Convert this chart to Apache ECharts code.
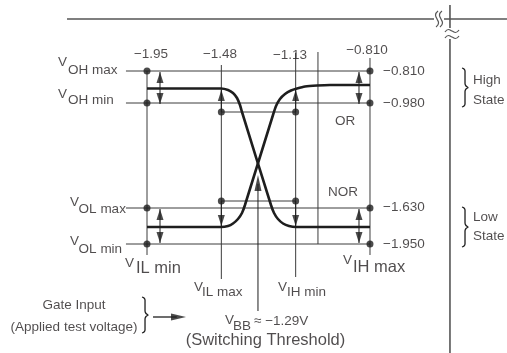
<!DOCTYPE html>
<html><head><meta charset="utf-8">
<script src="https://cdn.jsdelivr.net/npm/echarts@6/dist/echarts.min.js"></script>
<style>html,body{margin:0;padding:0;background:#fff}#c{width:507px;height:353px}</style>
</head><body><div id="c"></div>
<script>
// ===== DATA (schematic units: x = input-voltage tick index, y = output level position) =====
const inputTickLabels = ['−1.95', '−1.48', '−1.13', '−0.810'];
const inputTickPos = [0, 1, 2, 3];
const outputTickLabels = ['−0.810', '−0.980', '−1.630', '−1.950'];
const outputTickPos = [17.3, 14.1, 3.6, 0];          // VOHmax, VOHmin, VOLmax, VOLmin
const outputNames = ['OH max', 'OH min', 'OL max', 'OL min'];
const inputNames = ['IL min', 'IL max', 'IH min', 'IH max'];
const vbbPos = 1.493;                                 // VBB ≈ −1.29 V
const vbbLabel = '≈ −1.29V';
const orNorBoundary = 2.3;
const norCurveX = [0, 0.996, 1.090, 1.157, 1.211, 1.251, 1.278, 1.668, 1.709, 1.762, 1.830, 1.910, 2.005, 3];
const norCurveY = [15.55, 15.55, 15.4, 15.1, 14.6, 13.9, 13.2, 3.9, 3.1, 2.5, 2.05, 1.8, 1.7, 1.7];
const orCurveX = [0, 0.996, 1.090, 1.157, 1.224, 1.278, 1.318, 1.695, 1.736, 1.789, 1.857, 1.937, 2.018, 2.126, 2.287, 2.462, 3];
const orCurveY = [1.7, 1.7, 1.8, 2.05, 2.5, 3.1, 3.9, 12.9, 13.8, 14.5, 15.0, 15.35, 15.55, 15.75, 15.85, 15.9, 15.9];
const testLevelHigh = 13.2, testLevelLow = 4.3;

// ===== LAYOUT / STYLE =====
function fontAvailable(name){
  const c = document.createElement('canvas').getContext('2d');
  const s = '(Applied test voltage) 1.95';
  c.font = '20px monospace'; const a = c.measureText(s).width;
  c.font = '20px "' + name + '", monospace'; const b = c.measureText(s).width;
  return Math.abs(a - b) > 0.5;
}
const NARROW = fontAvailable('Liberation Sans Narrow');
const FONT = NARROW ? '"Liberation Sans Narrow", sans-serif' : '"Liberation Sans", Arial, sans-serif';
const FS = NARROW ? 16 : 13.5;
const FB = NARROW ? 19.5 : 16.5;
const TEXT = '#231f20', LINE = '#3c3c3c', DARK = '#1e1e1e';
const PX = 1 / 74.33, PY = 0.1;   // one screen pixel in schematic units

const series = [];
function seg(pts, o) {
  o = o || {};
  series.push({type: 'line', data: pts, showSymbol: false, symbol: 'none', silent: true, animation: false,
    clip: false, smooth: o.smooth || false, z: o.z || 2,
    lineStyle: {color: o.color || LINE, width: o.width || 1}});
}
const texts = [];
function txt(x, y, s, size, align) {
  texts.push({value: [x, y], label: {formatter: s, fontSize: size, align: align || 'left'}});
}
const heads = [];
function head(x, y, dir, w, l) {
  const rot = {up: 0, down: 180, right: -90}[dir];
  const off = {up: [0, l / 2], down: [0, -l / 2], right: [-l / 2, 0]}[dir];
  heads.push({value: [x, y], symbolRotate: rot, symbolOffset: off, symbolSize: [w, l]});
}
const dots = [];

// horizontal level lines
const levelLeft = -0.283;
outputTickPos.forEach(y => seg([[levelLeft, y], [inputTickPos[3], y]]));
// test level lines between VIL max and VIH min
seg([[inputTickPos[1], testLevelHigh], [inputTickPos[2], testLevelHigh]]);
seg([[inputTickPos[1], testLevelLow], [inputTickPos[2], testLevelLow]]);
// vertical input lines
const vTop = [17.3, 17.9, 19.1, 18.6];
const vBot = [-1.1, -3.5, -3.3, -1.1];
inputTickPos.forEach((x, i) => seg([[x, vTop[i]], [x, vBot[i]]]));
seg([[orNorBoundary, 19.2], [orNorBoundary, 0]]);
// dots
outputTickPos.forEach(y => { dots.push([inputTickPos[0], y]); dots.push([inputTickPos[3], y]); });
[inputTickPos[1], inputTickPos[2]].forEach(x => { dots.push([x, testLevelHigh]); dots.push([x, testLevelLow]); });

// double arrows
[0.175, 2.852].forEach(x => {
  seg([[x, 17.2], [x, 14.0]], {color: DARK});
  head(x, 17.2, 'up', 7, 11); head(x, 14.0, 'down', 7, 11);
  seg([[x, 3.5], [x, 0.1]], {color: DARK});
  head(x, 3.5, 'up', 7, 11); head(x, 0.1, 'down', 7, 11);
});
// single arrows from test dots to curves
[inputTickPos[1], inputTickPos[2]].forEach(x => {
  seg([[x, testLevelHigh], [x, 15.4]], {color: DARK}); head(x, 15.4, 'up', 7, 11);
  seg([[x, testLevelLow], [x, 1.8]], {color: DARK}); head(x, 1.8, 'down', 7, 11);
});
// VBB arrow
seg([[vbbPos, -6.7], [vbbPos, 6.0]], {color: DARK});
head(vbbPos, 6.9, 'up', 7, 16);
// gate input arrow
seg([[0.081, -7.3], [0.4, -7.3]], {color: DARK, width: 1.3});
head(0.525, -7.3, 'right', 7, 15);

// transfer curves
seg(norCurveX.map((x, i) => [x, norCurveY[i]]), {color: DARK, width: 2.6, smooth: 0.2, z: 3});
seg(orCurveX.map((x, i) => [x, orCurveY[i]]), {color: DARK, width: 2.6, smooth: 0.2, z: 3});

// frame lines with break marks
seg([[-1.076, 22.5], [3.861, 22.5]], {color: '#555', width: 1.6});
seg([[3.996, 22.5], [4.843, 22.5]], {color: '#555', width: 1.6});
seg([[4.076, 23.9], [4.076, 21.6]], {color: '#555', width: 1.6});
seg([[4.076, 20.5], [4.076, -10.9]], {color: '#555', width: 1.6});
function wiggleV(x, yTop) {
  const rel = [[1, 0], [-1.5, 4], [0, 8], [1.5, 12], [-1, 16]];
  seg(rel.map(p => [x + p[0] * PX, yTop - p[1] * PY]), {color: '#555', width: 1.2, smooth: 0.5});
}
function wiggleH(x, y) {
  const rel = [[0, 1], [3.5, -1.5], [7, 0], [10.5, 1.5], [14, -1]];
  seg(rel.map(p => [x + p[0] * PX, y - p[1] * PY]), {color: '#555', width: 1.2, smooth: 0.5});
}
wiggleV(3.902, 23.3); wiggleV(3.955, 23.3);
wiggleH(4.009, 21.3); wiggleH(4.009, 20.7);

// braces
function brace(x, yTop, yBot) {
  const h = (yTop - yBot) / PY, m = h / 2;
  const rel = [[0, 0], [2, 1], [3, 3], [3, m - 4], [4, m - 1.5], [6, m], [4, m + 1.5], [3, m + 4], [3, h - 3], [2, h - 1], [0, h]];
  seg(rel.map(p => [x + p[0] * PX, yTop - p[1] * PY]), {color: DARK, width: 1.3, smooth: 0.3});
}
brace(4.238, 17.6, 13.7);
brace(4.238, 3.7, -0.3);
brace(-0.067, -5.3, -8.9);

// ===== TEXT =====
const topLabelX = [0.054, 0.982, 1.924, 2.96];
const topLabelY = [18.95, 18.95, 18.9, 19.4];
inputTickLabels.forEach((s, i) => txt(topLabelX[i], topLabelY[i], s, FS, 'center'));
const rightLabelY = [17.3, 14.1, 3.7, 0];
outputTickLabels.forEach((s, i) => txt(3.175, rightLabelY[i], s, FS));
txt(2.664, 12.3, 'OR', FS, 'center');
txt(2.637, 5.2, 'NOR', FS, 'center');
txt(4.386, 16.4, 'High', FS); txt(4.386, 14.4, 'State', FS);
txt(4.386, 2.7, 'Low', FS); txt(4.386, 0.8, 'State', FS);
// output level names
const outVX = [-1.197, -1.197, -1.036, -1.036], outVY = [18.15, 15.0, 4.2, 0.25];
const outSX = [-1.063, -1.063, -0.92, -0.92], outSY = [17.4, 14.35, 3.5, -0.5];
outputNames.forEach((s, i) => { txt(outVX[i], outVY[i], 'V', FS); txt(outSX[i], outSY[i], s, FS); });
// input level names
const inVX = [-0.296, 0.632, 1.762, 2.637], inVY = [-1.9, -4.3, -4.3, -1.6];
const inSX = [-0.148, 0.740, 1.884, 2.771], inSY = [-2.45, -4.85, -4.85, -2.3];
const inSize = [FB, FS, FS, FB];
inputNames.forEach((s, i) => { txt(inVX[i], inVY[i], 'V', FS); txt(inSX[i], inSY[i], s, inSize[i]); });
// VBB
txt(1.049, -7.6, 'V', FS); txt(1.157, -8.2, 'BB', FS); txt(1.440, -7.7, vbbLabel, FS);
txt(1.594, -9.6, '(Switching Threshold)', FB, 'center');
txt(-0.982, -6.1, 'Gate Input', FS, 'center');
txt(-0.982, -8.3, '(Applied test voltage)', FS, 'center');

series.push({type: 'scatter', data: dots, symbol: 'circle', symbolSize: 7, itemStyle: {color: DARK},
  silent: true, animation: false, z: 6, clip: false});
series.push({type: 'scatter', data: heads, symbol: 'triangle', itemStyle: {color: DARK},
  silent: true, animation: false, z: 5, clip: false});
series.push({type: 'scatter', data: texts, symbol: 'circle', symbolSize: 1, itemStyle: {color: 'rgba(0,0,0,0)'},
  silent: true, animation: false, z: 7, clip: false,
  label: {show: true, position: 'inside', verticalAlign: 'middle', color: TEXT, fontFamily: FONT}});

const chart = echarts.init(document.getElementById('c'), null, {renderer: 'canvas'});
chart.setOption({
  animation: false,
  backgroundColor: '#fff',
  grid: {left: 0, right: 0, top: 0, bottom: 0},
  xAxis: {type: 'value', min: -1.9777, max: 4.8433, show: false},
  yAxis: {type: 'value', min: -10.9, max: 24.4, show: false},
  series: series
});
</script></body></html>
